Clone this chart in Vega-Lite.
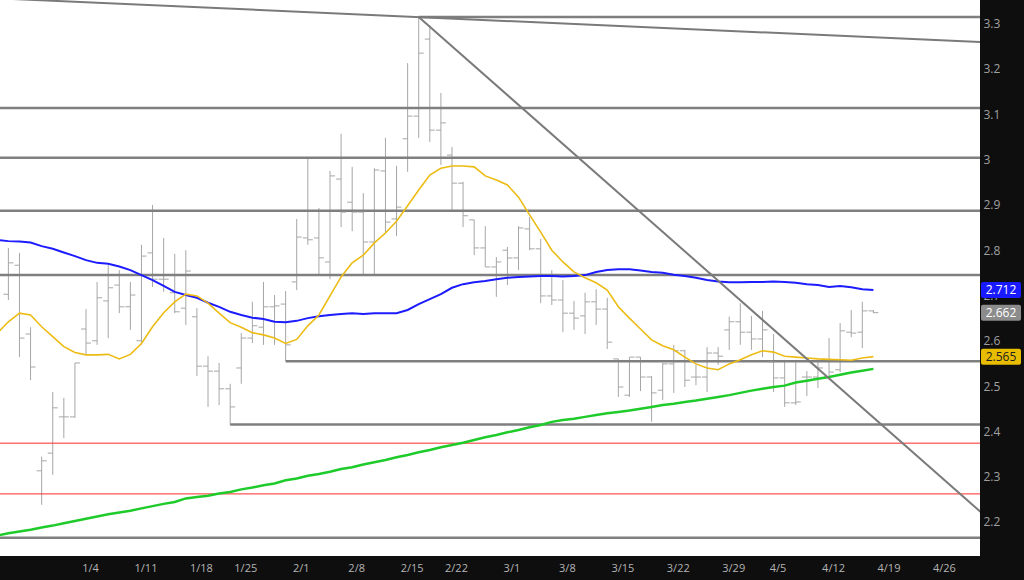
{
  "$schema": "https://vega.github.io/schema/vega-lite/v6.json",
  "width": 980,
  "height": 556,
  "autosize": {"type": "none"},
  "padding": {"left": 0, "top": 0, "right": 44, "bottom": 24},
  "background": "#0e0e0e",
  "config": {"view": {"fill": "#ffffff", "stroke": null}, "font": "Open Sans"},
  "datasets": {
    "ohlc": [
      {"date": "12/21", "open": null, "high": null, "low": null, "close": null, "ma_mid": 2.8225, "ma_short": 2.617, "ma_long": 2.170},
      {"date": "12/22", "open": 2.703, "high": 2.805, "low": 2.690, "close": 2.772, "ma_mid": 2.820, "ma_short": 2.642, "ma_long": 2.175},
      {"date": "12/23", "open": 2.767, "high": 2.794, "low": 2.564, "close": 2.606, "ma_mid": 2.819, "ma_short": 2.661, "ma_long": 2.179},
      {"date": "12/24", "open": 2.615, "high": 2.630, "low": 2.513, "close": 2.542, "ma_mid": 2.817, "ma_short": 2.657, "ma_long": 2.183},
      {"date": "12/28", "open": 2.313, "high": 2.344, "low": 2.238, "close": 2.335, "ma_mid": 2.809, "ma_short": 2.631, "ma_long": 2.188},
      {"date": "12/29", "open": 2.352, "high": 2.487, "low": 2.304, "close": 2.452, "ma_mid": 2.803, "ma_short": 2.609, "ma_long": 2.192},
      {"date": "12/30", "open": 2.432, "high": 2.474, "low": 2.385, "close": 2.432, "ma_mid": 2.795, "ma_short": 2.587, "ma_long": 2.197},
      {"date": "12/31", "open": 2.432, "high": 2.551, "low": 2.430, "close": 2.551, "ma_mid": 2.787, "ma_short": 2.574, "ma_long": 2.202},
      {"date": "1/4", "open": 2.626, "high": 2.670, "low": 2.569, "close": 2.595, "ma_mid": 2.778, "ma_short": 2.569, "ma_long": 2.207},
      {"date": "1/5", "open": 2.600, "high": 2.730, "low": 2.591, "close": 2.695, "ma_mid": 2.772, "ma_short": 2.569, "ma_long": 2.212},
      {"date": "1/6", "open": 2.688, "high": 2.767, "low": 2.606, "close": 2.717, "ma_mid": 2.770, "ma_short": 2.570, "ma_long": 2.217},
      {"date": "1/7", "open": 2.723, "high": 2.756, "low": 2.661, "close": 2.675, "ma_mid": 2.764, "ma_short": 2.560, "ma_long": 2.221},
      {"date": "1/8", "open": 2.675, "high": 2.730, "low": 2.624, "close": 2.701, "ma_mid": 2.756, "ma_short": 2.570, "ma_long": 2.225},
      {"date": "1/11", "open": 2.600, "high": 2.812, "low": 2.591, "close": 2.787, "ma_mid": 2.745, "ma_short": 2.594, "ma_long": 2.230},
      {"date": "1/12", "open": 2.794, "high": 2.900, "low": 2.719, "close": 2.736, "ma_mid": 2.734, "ma_short": 2.631, "ma_long": 2.235},
      {"date": "1/13", "open": 2.736, "high": 2.827, "low": 2.708, "close": 2.736, "ma_mid": 2.721, "ma_short": 2.662, "ma_long": 2.240},
      {"date": "1/14", "open": 2.706, "high": 2.792, "low": 2.661, "close": 2.664, "ma_mid": 2.708, "ma_short": 2.686, "ma_long": 2.244},
      {"date": "1/15", "open": 2.672, "high": 2.800, "low": 2.635, "close": 2.754, "ma_mid": 2.701, "ma_short": 2.703, "ma_long": 2.252},
      {"date": "1/19", "open": 2.653, "high": 2.672, "low": 2.522, "close": 2.544, "ma_mid": 2.695, "ma_short": 2.699, "ma_long": 2.255},
      {"date": "1/20", "open": 2.544, "high": 2.566, "low": 2.454, "close": 2.533, "ma_mid": 2.684, "ma_short": 2.683, "ma_long": 2.258},
      {"date": "1/21", "open": 2.533, "high": 2.551, "low": 2.458, "close": 2.494, "ma_mid": 2.675, "ma_short": 2.661, "ma_long": 2.263},
      {"date": "1/22", "open": 2.494, "high": 2.505, "low": 2.414, "close": 2.454, "ma_mid": 2.664, "ma_short": 2.640, "ma_long": 2.266},
      {"date": "1/25", "open": 2.540, "high": 2.617, "low": 2.505, "close": 2.606, "ma_mid": 2.657, "ma_short": 2.630, "ma_long": 2.272},
      {"date": "1/26", "open": 2.606, "high": 2.686, "low": 2.595, "close": 2.633, "ma_mid": 2.651, "ma_short": 2.618, "ma_long": 2.276},
      {"date": "1/27", "open": 2.630, "high": 2.730, "low": 2.591, "close": 2.675, "ma_mid": 2.648, "ma_short": 2.613, "ma_long": 2.281},
      {"date": "1/28", "open": 2.675, "high": 2.701, "low": 2.591, "close": 2.677, "ma_mid": 2.642, "ma_short": 2.606, "ma_long": 2.285},
      {"date": "1/29", "open": 2.681, "high": 2.710, "low": 2.555, "close": 2.591, "ma_mid": 2.641, "ma_short": 2.594, "ma_long": 2.292},
      {"date": "2/1", "open": 2.730, "high": 2.869, "low": 2.712, "close": 2.829, "ma_mid": 2.644, "ma_short": 2.603, "ma_long": 2.296},
      {"date": "2/2", "open": 2.827, "high": 3.004, "low": 2.812, "close": 2.823, "ma_mid": 2.650, "ma_short": 2.633, "ma_long": 2.302},
      {"date": "2/3", "open": 2.827, "high": 2.893, "low": 2.745, "close": 2.783, "ma_mid": 2.654, "ma_short": 2.657, "ma_long": 2.306},
      {"date": "2/4", "open": 2.774, "high": 2.975, "low": 2.736, "close": 2.964, "ma_mid": 2.657, "ma_short": 2.699, "ma_long": 2.311},
      {"date": "2/5", "open": 2.957, "high": 3.057, "low": 2.851, "close": 2.884, "ma_mid": 2.659, "ma_short": 2.741, "ma_long": 2.317},
      {"date": "2/8", "open": 2.906, "high": 2.984, "low": 2.842, "close": 2.884, "ma_mid": 2.661, "ma_short": 2.772, "ma_long": 2.321},
      {"date": "2/9", "open": 2.884, "high": 2.926, "low": 2.745, "close": 2.818, "ma_mid": 2.659, "ma_short": 2.789, "ma_long": 2.327},
      {"date": "2/10", "open": 2.818, "high": 2.981, "low": 2.743, "close": 2.977, "ma_mid": 2.661, "ma_short": 2.816, "ma_long": 2.332},
      {"date": "2/11", "open": 2.975, "high": 3.048, "low": 2.838, "close": 2.862, "ma_mid": 2.661, "ma_short": 2.838, "ma_long": 2.337},
      {"date": "2/12", "open": 2.869, "high": 2.986, "low": 2.831, "close": 2.895, "ma_mid": 2.661, "ma_short": 2.864, "ma_long": 2.343},
      {"date": "2/16", "open": 3.046, "high": 3.213, "low": 2.973, "close": 3.096, "ma_mid": 2.668, "ma_short": 2.898, "ma_long": 2.348},
      {"date": "2/17", "open": 3.096, "high": 3.315, "low": 3.048, "close": 3.235, "ma_mid": 2.681, "ma_short": 2.933, "ma_long": 2.354},
      {"date": "2/18", "open": 3.266, "high": 3.297, "low": 3.039, "close": 3.065, "ma_mid": 2.692, "ma_short": 2.966, "ma_long": 2.359},
      {"date": "2/19", "open": 3.065, "high": 3.147, "low": 2.988, "close": 3.081, "ma_mid": 2.703, "ma_short": 2.981, "ma_long": 2.365},
      {"date": "2/22", "open": 3.010, "high": 3.028, "low": 2.887, "close": 2.948, "ma_mid": 2.717, "ma_short": 2.986, "ma_long": 2.370},
      {"date": "2/23", "open": 2.948, "high": 2.951, "low": 2.851, "close": 2.876, "ma_mid": 2.725, "ma_short": 2.986, "ma_long": 2.375},
      {"date": "2/24", "open": 2.867, "high": 2.867, "low": 2.789, "close": 2.805, "ma_mid": 2.729, "ma_short": 2.984, "ma_long": 2.381},
      {"date": "2/25", "open": 2.805, "high": 2.853, "low": 2.763, "close": 2.763, "ma_mid": 2.732, "ma_short": 2.964, "ma_long": 2.387},
      {"date": "2/26", "open": 2.763, "high": 2.785, "low": 2.697, "close": 2.774, "ma_mid": 2.736, "ma_short": 2.955, "ma_long": 2.392},
      {"date": "3/1", "open": 2.800, "high": 2.807, "low": 2.723, "close": 2.783, "ma_mid": 2.739, "ma_short": 2.944, "ma_long": 2.398},
      {"date": "3/2", "open": 2.783, "high": 2.853, "low": 2.756, "close": 2.849, "ma_mid": 2.741, "ma_short": 2.917, "ma_long": 2.403},
      {"date": "3/3", "open": 2.847, "high": 2.873, "low": 2.800, "close": 2.803, "ma_mid": 2.742, "ma_short": 2.878, "ma_long": 2.409},
      {"date": "3/4", "open": 2.803, "high": 2.825, "low": 2.683, "close": 2.699, "ma_mid": 2.743, "ma_short": 2.840, "ma_long": 2.414},
      {"date": "3/5", "open": 2.699, "high": 2.756, "low": 2.679, "close": 2.690, "ma_mid": 2.743, "ma_short": 2.800, "ma_long": 2.421},
      {"date": "3/8", "open": 2.690, "high": 2.734, "low": 2.619, "close": 2.661, "ma_mid": 2.742, "ma_short": 2.774, "ma_long": 2.425},
      {"date": "3/9", "open": 2.661, "high": 2.688, "low": 2.624, "close": 2.650, "ma_mid": 2.743, "ma_short": 2.752, "ma_long": 2.428},
      {"date": "3/10", "open": 2.655, "high": 2.706, "low": 2.615, "close": 2.686, "ma_mid": 2.745, "ma_short": 2.739, "ma_long": 2.432},
      {"date": "3/11", "open": 2.686, "high": 2.714, "low": 2.635, "close": 2.670, "ma_mid": 2.752, "ma_short": 2.728, "ma_long": 2.436},
      {"date": "3/12", "open": 2.670, "high": 2.695, "low": 2.582, "close": 2.597, "ma_mid": 2.756, "ma_short": 2.712, "ma_long": 2.440},
      {"date": "3/15", "open": 2.560, "high": 2.560, "low": 2.476, "close": 2.498, "ma_mid": 2.758, "ma_short": 2.675, "ma_long": 2.443},
      {"date": "3/16", "open": 2.480, "high": 2.564, "low": 2.476, "close": 2.564, "ma_mid": 2.758, "ma_short": 2.650, "ma_long": 2.446},
      {"date": "3/17", "open": 2.564, "high": 2.564, "low": 2.489, "close": 2.520, "ma_mid": 2.755, "ma_short": 2.626, "ma_long": 2.450},
      {"date": "3/18", "open": 2.520, "high": 2.522, "low": 2.421, "close": 2.485, "ma_mid": 2.752, "ma_short": 2.602, "ma_long": 2.454},
      {"date": "3/19", "open": 2.491, "high": 2.551, "low": 2.469, "close": 2.549, "ma_mid": 2.750, "ma_short": 2.589, "ma_long": 2.458},
      {"date": "3/22", "open": 2.549, "high": 2.591, "low": 2.485, "close": 2.578, "ma_mid": 2.746, "ma_short": 2.580, "ma_long": 2.461},
      {"date": "3/23", "open": 2.578, "high": 2.580, "low": 2.498, "close": 2.513, "ma_mid": 2.743, "ma_short": 2.564, "ma_long": 2.465},
      {"date": "3/24", "open": 2.520, "high": 2.547, "low": 2.502, "close": 2.520, "ma_mid": 2.739, "ma_short": 2.549, "ma_long": 2.468},
      {"date": "3/25", "open": 2.520, "high": 2.586, "low": 2.487, "close": 2.573, "ma_mid": 2.734, "ma_short": 2.540, "ma_long": 2.472},
      {"date": "3/26", "open": 2.573, "high": 2.586, "low": 2.547, "close": 2.566, "ma_mid": 2.731, "ma_short": 2.536, "ma_long": 2.476},
      {"date": "3/29", "open": 2.624, "high": 2.653, "low": 2.580, "close": 2.642, "ma_mid": 2.729, "ma_short": 2.549, "ma_long": 2.480},
      {"date": "3/30", "open": 2.642, "high": 2.683, "low": 2.591, "close": 2.619, "ma_mid": 2.729, "ma_short": 2.558, "ma_long": 2.485},
      {"date": "3/31", "open": 2.619, "high": 2.655, "low": 2.580, "close": 2.604, "ma_mid": 2.730, "ma_short": 2.569, "ma_long": 2.490},
      {"date": "4/1", "open": 2.604, "high": 2.666, "low": 2.564, "close": 2.624, "ma_mid": 2.730, "ma_short": 2.578, "ma_long": 2.494},
      {"date": "4/5", "open": 2.553, "high": 2.615, "low": 2.487, "close": 2.518, "ma_mid": 2.731, "ma_short": 2.575, "ma_long": 2.498},
      {"date": "4/6", "open": 2.518, "high": 2.558, "low": 2.454, "close": 2.463, "ma_mid": 2.730, "ma_short": 2.566, "ma_long": 2.501},
      {"date": "4/7", "open": 2.463, "high": 2.558, "low": 2.458, "close": 2.465, "ma_mid": 2.728, "ma_short": 2.564, "ma_long": 2.508},
      {"date": "4/8", "open": 2.520, "high": 2.533, "low": 2.478, "close": 2.520, "ma_mid": 2.725, "ma_short": 2.562, "ma_long": 2.512},
      {"date": "4/9", "open": 2.520, "high": 2.553, "low": 2.496, "close": 2.540, "ma_mid": 2.723, "ma_short": 2.560, "ma_long": 2.516},
      {"date": "4/12", "open": 2.520, "high": 2.606, "low": 2.518, "close": 2.531, "ma_mid": 2.719, "ma_short": 2.559, "ma_long": 2.520},
      {"date": "4/13", "open": 2.536, "high": 2.639, "low": 2.531, "close": 2.622, "ma_mid": 2.721, "ma_short": 2.558, "ma_long": 2.525},
      {"date": "4/14", "open": 2.619, "high": 2.668, "low": 2.608, "close": 2.617, "ma_mid": 2.718, "ma_short": 2.557, "ma_long": 2.530},
      {"date": "4/15", "open": 2.619, "high": 2.686, "low": 2.584, "close": 2.666, "ma_mid": 2.714, "ma_short": 2.562, "ma_long": 2.534},
      {"date": "4/16", "open": 2.666, "high": 2.668, "low": 2.661, "close": 2.662, "ma_mid": 2.712, "ma_short": 2.565, "ma_long": 2.538}
    ],
    "levels_gray": [{"value": 3.114}, {"value": 3.004}, {"value": 2.887}, {"value": 2.745}, {"value": 2.165}],
    "levels_red": [{"value": 2.374}, {"value": 2.262}],
    "levels_from": [{"from": "2/17", "value": 3.315}, {"from": "1/29", "value": 2.555}, {"from": "1/22", "value": 2.415}],
    "trends": [
      {"line": "upper", "date": "12/21", "value": 3.356},
      {"line": "upper", "date": "4/30", "value": 3.259},
      {"line": "down", "date": "2/17", "value": 3.315},
      {"line": "down", "date": "4/30", "value": 2.215}
    ],
    "last": [
      {"series": "ma_mid", "value": 2.712, "label": "2.712"},
      {"series": "close", "value": 2.662, "label": "2.662"},
      {"series": "ma_short", "value": 2.565, "label": "2.565"}
    ]
  },
  "layer": [
    {
      "data": {"name": "ohlc"},
      "mark": {"type": "rule", "color": "#a6a6a6", "strokeWidth": 1},
      "encoding": {
        "x": {
          "field": "date", "type": "ordinal", "title": null,
          "scale": {
            "type": "point", "padding": 0, "range": [-2.7, 984.3],
            "domain": ["12/21","12/22","12/23","12/24","12/28","12/29","12/30","12/31","1/4","1/5","1/6","1/7","1/8","1/11","1/12","1/13","1/14","1/15","1/19","1/20","1/21","1/22","1/25","1/26","1/27","1/28","1/29","2/1","2/2","2/3","2/4","2/5","2/8","2/9","2/10","2/11","2/12","2/16","2/17","2/18","2/19","2/22","2/23","2/24","2/25","2/26","3/1","3/2","3/3","3/4","3/5","3/8","3/9","3/10","3/11","3/12","3/15","3/16","3/17","3/18","3/19","3/22","3/23","3/24","3/25","3/26","3/29","3/30","3/31","4/1","4/5","4/6","4/7","4/8","4/9","4/12","4/13","4/14","4/15","4/16","4/19","4/20","4/21","4/22","4/23","4/26","4/27","4/28","4/29","4/30"]
          },
          "axis": {
            "values": ["1/4","1/11","1/19","1/25","2/1","2/8","2/16","2/22","3/1","3/8","3/15","3/22","3/29","4/5","4/12","4/19","4/26"],
            "labelExpr": "datum.value == '1/19' ? '1/18' : datum.value == '2/16' ? '2/15' : datum.value",
            "labelOffset": 4, "labelAngle": 0, "labelOverlap": false,
            "ticks": false, "domain": false, "grid": false, "title": null,
            "labelColor": "#b4b4b4", "labelFontSize": 11, "labelPadding": 6
          }
        },
        "y": {
          "field": "low", "type": "quantitative", "title": null,
          "scale": {"domain": [2.1249, 3.3523], "nice": false, "zero": false},
          "axis": {
            "orient": "right",
            "values": [2.2, 2.3, 2.4, 2.5, 2.6, 2.7, 2.8, 2.9, 3.0, 3.1, 3.2, 3.3],
            "format": "~f",
            "ticks": false, "domain": false, "grid": false, "title": null,
            "labelColor": "#a0a0a0", "labelFontSize": 12, "labelPadding": 3
          }
        },
        "y2": {"field": "high"}
      }
    },
    {
      "data": {"name": "levels_red"},
      "mark": {"type": "rule", "color": "#ff2a2a", "strokeWidth": 1},
      "encoding": {"y": {"field": "value", "type": "quantitative", "title": null}}
    },
    {
      "data": {"name": "levels_gray"},
      "mark": {"type": "rule", "color": "#7f7f7f", "strokeWidth": 2.5},
      "encoding": {"y": {"field": "value", "type": "quantitative", "title": null}}
    },
    {
      "data": {"name": "levels_from"},
      "mark": {"type": "rule", "color": "#7f7f7f", "strokeWidth": 2.5, "clip": true},
      "encoding": {
        "x": {"field": "from", "type": "ordinal", "title": null},
        "x2": {"datum": "4/30"},
        "y": {"field": "value", "type": "quantitative", "title": null}
      }
    },
    {
      "data": {"name": "ohlc"},
      "mark": {"type": "tick", "orient": "horizontal", "size": 5, "thickness": 1, "xOffset": -2.5, "color": "#a6a6a6", "opacity": 1},
      "encoding": {
        "x": {"field": "date", "type": "ordinal", "title": null},
        "y": {"field": "open", "type": "quantitative", "title": null}
      }
    },
    {
      "data": {"name": "ohlc"},
      "mark": {"type": "tick", "orient": "horizontal", "size": 5, "thickness": 1, "xOffset": 2.5, "color": "#a6a6a6", "opacity": 1},
      "encoding": {
        "x": {"field": "date", "type": "ordinal", "title": null},
        "y": {"field": "close", "type": "quantitative", "title": null}
      }
    },
    {
      "data": {"name": "ohlc"},
      "mark": {"type": "line", "color": "#1ecb2a", "strokeWidth": 2.5, "clip": true},
      "encoding": {
        "x": {"field": "date", "type": "ordinal", "title": null},
        "y": {"field": "ma_long", "type": "quantitative", "title": null},
        "order": {"value": null}
      }
    },
    {
      "data": {"name": "ohlc"},
      "mark": {"type": "line", "color": "#1c1cff", "strokeWidth": 2, "clip": true},
      "encoding": {
        "x": {"field": "date", "type": "ordinal", "title": null},
        "y": {"field": "ma_mid", "type": "quantitative", "title": null},
        "order": {"value": null}
      }
    },
    {
      "data": {"name": "ohlc"},
      "mark": {"type": "line", "color": "#ecbc14", "strokeWidth": 1.6, "clip": true},
      "encoding": {
        "x": {"field": "date", "type": "ordinal", "title": null},
        "y": {"field": "ma_short", "type": "quantitative", "title": null},
        "order": {"value": null}
      }
    },
    {
      "data": {"name": "trends"},
      "mark": {"type": "line", "color": "#7a7a7a", "strokeWidth": 2, "clip": true},
      "encoding": {
        "x": {"field": "date", "type": "ordinal", "title": null},
        "y": {"field": "value", "type": "quantitative", "title": null},
        "detail": {"field": "line"},
        "order": {"value": null}
      }
    },
    {
      "data": {"name": "last"},
      "mark": {"type": "tick", "orient": "horizontal", "size": 40, "thickness": 16, "xOffset": 21, "cornerRadius": 2, "opacity": 1},
      "encoding": {
        "x": {"value": "width"},
        "y": {"field": "value", "type": "quantitative", "title": null},
        "fill": {"field": "series", "type": "nominal", "legend": null, "scale": {"domain": ["ma_mid", "close", "ma_short"], "range": ["#1a1aff", "#8c8c8c", "#e8bc00"]}}
      }
    },
    {
      "data": {"name": "last"},
      "mark": {"type": "text", "dx": 21, "align": "center", "baseline": "middle", "fontSize": 12},
      "encoding": {
        "x": {"value": "width"},
        "y": {"field": "value", "type": "quantitative", "title": null},
        "text": {"field": "label"},
        "color": {"field": "series", "type": "nominal", "legend": null, "scale": {"domain": ["ma_mid", "close", "ma_short"], "range": ["#ffffff", "#ffffff", "#202020"]}}
      }
    }
  ]
}
